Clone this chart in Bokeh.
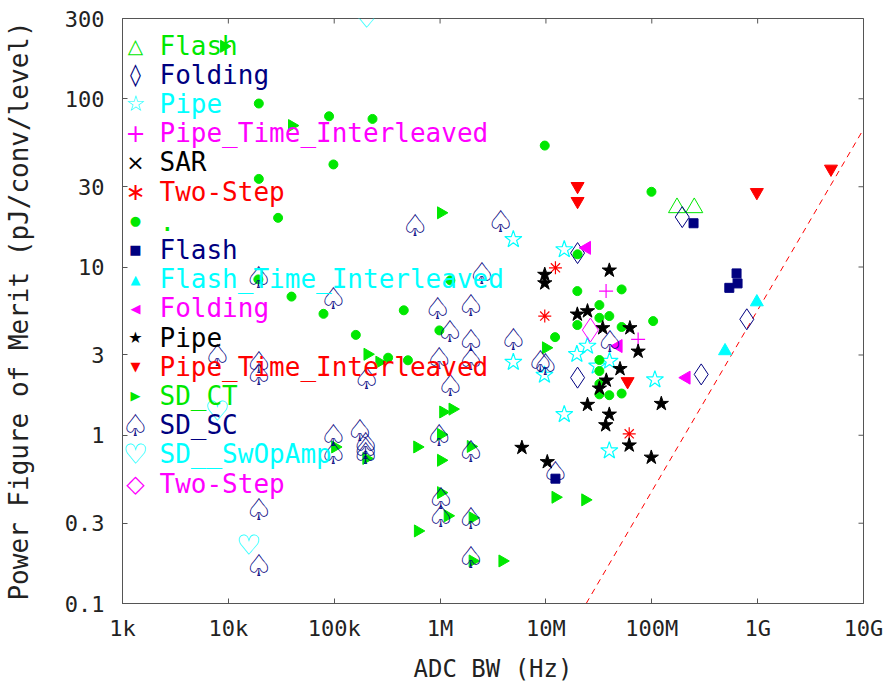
import math
from bokeh.plotting import figure
from bokeh.models import Range1d, FixedTicker, Label
from bokeh.core.properties import value
from bokeh.embed import file_html
from bokeh.resources import INLINE

# ---------------- data (ADC bandwidth in Hz, power FOM in pJ/conv/level) ----------------
flash_h_bw = [1.73e8, 2.52e8]
flash_h_fom = [22.5, 22.5]
folding_h_bw = [1.94e8, 7.9e8, 2.93e8, 1.99e7, 1.99e7]
folding_h_fom = [19.8, 4.89, 2.30, 2.20, 12.1]
pipe_h_bw = [4.92e6, 1.49e7, 4.92e6, 9.68e6, 1.96e7, 2.47e7, 3.05e7, 3.99e7, 1.07e8, 1.49e7, 3.97e7]
pipe_h_fom = [14.6, 12.7, 2.72, 2.28, 3.03, 3.39, 2.58, 2.76, 2.14, 1.33, 0.81]
pti_h_bw = [3.70e7, 7.43e7]
pti_h_fom = [7.19, 3.71]
sar_h_bw = []
sar_h_fom = []
twostep_h_bw = [1.23e7, 9.75e6, 6.12e7]
twostep_h_fom = [9.89, 5.11, 1.02]
dot_bw = [1.94e4, 8.94e4, 2.30e5, 9.83e4, 1.94e4, 2.95e4, 1.92e4, 3.95e4, 7.92e4, 4.54e5,
          1.60e5, 3.23e5, 4.97e5, 9.85e5, 1.25e6, 9.75e6, 1.99e7, 1.98e7, 5.19e7, 3.20e7,
          3.20e7, 3.97e7, 1.98e7, 5.19e7, 1.03e8, 1.22e7, 3.20e7, 3.20e7, 3.20e7, 3.20e7,
          3.97e7, 5.19e7, 9.93e7]
dot_fom = [93.7, 78.7, 75.9, 40.7, 33.4, 19.6, 8.44, 6.67, 5.27, 5.53,
           3.95, 2.89, 2.79, 4.20, 8.33, 52.7, 11.9, 7.19, 7.36, 5.94,
           4.99, 5.11, 4.52, 4.40, 4.77, 3.83, 2.80, 2.41, 2.02, 1.75,
           1.73, 1.77, 28.0]
flash_f_bw = [2.48e8, 6.32e8, 6.46e8, 5.40e8, 1.23e7]
flash_f_fom = [18.2, 9.16, 7.99, 7.52, 0.552]
fti_bw = [9.83e8, 4.92e8]
fti_fom = [6.19, 3.17]
folding_f_bw = [2.43e7, 4.83e7, 2.12e8]
folding_f_fom = [13.0, 3.39, 2.20]
pipe_f_bw = [9.75e6, 9.75e6, 3.97e7, 1.98e7, 2.47e7, 3.44e7, 6.21e7, 7.43e7, 5.01e7, 3.72e7,
             3.20e7, 2.47e7, 3.97e7, 3.67e7, 1.23e8, 5.93e6, 6.12e7, 1.03e7, 9.89e7]
pipe_f_fom = [9.01, 8.02, 9.55, 5.23, 5.47, 4.34, 4.34, 3.15, 2.48, 2.12,
              1.90, 1.52, 1.33, 1.15, 1.54, 0.844, 0.872, 0.694, 0.738]
pti_f_bw = [1.99e7, 1.99e7, 9.83e8, 4.93e9, 5.91e7]
pti_f_fom = [30.2, 24.6, 27.8, 38.3, 2.09]
sdct_bw = [9.11e3, 3.99e4, 1.02e6, 2.06e5, 2.67e5, 1.00e7, 1.07e6, 1.31e6, 1.02e6, 6.08e5,
           1.02e5, 1.95e6, 2.01e5, 1.02e6, 1.23e7, 2.35e7, 1.02e6, 1.18e6, 2.03e6, 6.17e5,
           2.03e6, 3.88e6]
sdct_fom = [205, 69.3, 21.0, 3.03, 2.72, 3.31, 1.375, 1.43, 1.01, 0.852,
            0.852, 0.858, 0.728, 0.710, 0.428, 0.413, 0.456, 0.332, 0.323, 0.270,
            0.179, 0.179]
sdsc_bw = [7.88e3, 1.94e4, 1.94e4, 1.93e4, 9.83e4, 5.82e5, 3.74e6, 2.48e6, 9.47e5, 1.95e6,
           1.24e6, 1.95e6, 4.92e6, 9.79e5, 1.95e6, 2.02e5, 1.25e6, 8.88e6, 9.89e6, 4.01e7,
           9.83e4, 9.83e4, 1.75e5, 1.98e5, 1.98e5, 1.98e5, 9.79e5, 1.95e6, 1.23e7, 1.02e6,
           1.02e6, 1.95e6, 1.94e4, 1.94e4, 1.95e6]
sdsc_fom = [3.00, 2.74, 2.30, 8.71, 6.54, 17.7, 18.8, 9.20, 5.72, 5.94,
            4.16, 3.68, 3.73, 2.89, 2.83, 2.19, 1.99, 2.76, 2.64, 3.63,
            1.01, 0.788, 1.07, 0.904, 0.844, 0.788, 1.01, 0.807, 0.605, 0.424,
            0.332, 0.324, 0.364, 0.170, 0.188]
swop_bw = [2.02e5, 7.88e3, 1.56e4]
swop_fom = [300, 1.39, 0.220]
twostep_f_bw = [2.63e7]
twostep_f_fom = [4.22]
limit_bw = [2.4e7, 1e10]
limit_fom = [0.1, 66]

xtick_vals = [1e3, 1e4, 1e5, 1e6, 1e7, 1e8, 1e9, 1e10]
xtick_labels = ["1k", "10k", "100k", "1M", "10M", "100M", "1G", "10G"]
ytick_vals = [0.1, 0.3, 1, 3, 10, 30, 100, 300]
ytick_labels = ["0.1", "0.3", "1", "3", "10", "30", "100", "300"]

legend_labels = ["Flash", "Folding", "Pipe", "Pipe_Time_Interleaved", "SAR", "Two-Step", ".",
                 "Flash", "Flash_Time_Interleaved", "Folding", "Pipe", "Pipe_Time_Interleaved",
                 "SD_CT", "SD_SC", "SD__SwOpAmp", "Two-Step"]

# ---------------- style ----------------
GREEN = "#00e800"
NAVY = "#000080"
CYAN = "#00ffff"
MAGENTA = "#ff00ff"
RED = "#ff0000"
BLACK = "#000000"
AXC = "#555555"
TXT = "#222222"
MONO = "DejaVu Sans Mono"

W, H = 884, 686
BL, BR, BT, BB = 120, 21, 18, 83
FH = H - BT - BB

p = figure(width=W, height=H, x_axis_type="log", y_axis_type="log",
           x_range=Range1d(xtick_vals[0], xtick_vals[-1]),
           y_range=Range1d(ytick_vals[0], ytick_vals[-1]),
           output_backend="svg", toolbar_location=None,
           min_border_left=BL, min_border_right=BR, min_border_top=BT, min_border_bottom=BB)
p.xgrid.visible = False
p.ygrid.visible = False
p.outline_line_color = AXC
p.outline_line_width = 1
p.background_fill_color = "white"
p.border_fill_color = "white"


def style_axis(ax, ticks, labels):
    ax.ticker = FixedTicker(ticks=ticks)
    ax.major_label_overrides = {t: l for t, l in zip(ticks, labels)}
    ax.major_tick_in = 5
    ax.major_tick_out = 0
    ax.minor_tick_in = 0
    ax.minor_tick_out = 0
    ax.major_tick_line_color = AXC
    ax.axis_line_color = AXC
    ax.major_label_text_font = MONO
    ax.major_label_text_color = TXT
    ax.major_label_text_font_size = "22px"
    ax.axis_label_text_font = MONO
    ax.axis_label_text_font_style = "normal"
    ax.axis_label_text_color = TXT


style_axis(p.xaxis[0], xtick_vals, xtick_labels)
style_axis(p.yaxis[0], ytick_vals, ytick_labels)
p.xaxis[0].major_label_standoff = 12
p.yaxis[0].major_label_standoff = 18
p.xaxis[0].axis_label = "ADC BW (Hz)"
p.yaxis[0].axis_label = "Power Figure of Merit (pJ/conv/level)"
p.xaxis[0].axis_label_text_font_size = "24px"
p.yaxis[0].axis_label_text_font_size = "26px"
p.xaxis[0].axis_label_standoff = 11
p.yaxis[0].axis_label_standoff = 28

# inward ticks on the top and right edges of the frame
p.scatter(xtick_vals, [ytick_vals[-1]] * len(xtick_vals), marker="dash", angle=math.pi / 2,
          size=10, line_color=AXC, line_width=1)
p.scatter([xtick_vals[-1]] * len(ytick_vals), ytick_vals, marker="dash",
          size=10, line_color=AXC, line_width=1)

# ---------------- limit line ----------------
p.line(limit_bw, limit_fom, line_color=RED, line_dash="6 5", line_width=1)

# ---------------- hollow series ----------------
p.scatter(flash_h_bw, flash_h_fom, marker="triangle", size=17, fill_alpha=0, line_color=GREEN, line_width=1)
p.scatter(folding_h_bw, folding_h_fom, marker="diamond", size=21, fill_alpha=0, line_color=NAVY, line_width=1)
p.scatter(pipe_h_bw, pipe_h_fom, marker="star", size=18, fill_alpha=0, line_color=CYAN, line_width=1.2)
p.scatter(pti_h_bw, pti_h_fom, marker="cross", size=14, line_color=MAGENTA, line_width=1.2)
p.scatter(sar_h_bw, sar_h_fom, marker="x", size=12, line_color=BLACK, line_width=1.2)
p.scatter(twostep_h_bw, twostep_h_fom, marker="asterisk", size=13, line_color=RED, line_width=1.2)

# ---------------- filled series ----------------
p.scatter(dot_bw, dot_fom, marker="circle", size=9, fill_color=GREEN, line_color=GREEN)
p.scatter(flash_f_bw, flash_f_fom, marker="square", size=9, fill_color=NAVY, line_color=NAVY)
p.scatter(fti_bw, fti_fom, marker="triangle", size=13, fill_color=CYAN, line_color=CYAN)
p.scatter(folding_f_bw, folding_f_fom, marker="triangle", size=13, angle=math.pi / 2,
          fill_color=MAGENTA, line_color=MAGENTA)
p.scatter(pipe_f_bw, pipe_f_fom, marker="star", size=15, fill_color=BLACK, line_color=BLACK)
p.scatter(pti_f_bw, pti_f_fom, marker="inverted_triangle", size=13, fill_color=RED, line_color=RED)
p.scatter(sdct_bw, sdct_fom, marker="triangle", size=12, angle=-math.pi / 2,
          fill_color=GREEN, line_color=GREEN)
p.text(sdsc_bw, sdsc_fom, text=value("\u2664"), text_align="center", text_baseline="middle",
       text_font=value("DejaVu Sans"), text_font_size="31px", text_color=NAVY)
p.text(swop_bw, swop_fom, text=value("\u2661"), text_align="center", text_baseline="middle",
       text_font=value("DejaVu Sans"), text_font_size="28px", text_color=CYAN)
p.scatter(twostep_f_bw, twostep_f_fom, marker="diamond", size=24, fill_alpha=0, line_color=MAGENTA, line_width=1)

# ---------------- legend (symbol + coloured label per row) ----------------
legend_symbols = ["\u25b3", "\u25ca", "\u2606", "+", "\u00d7", "\u2217", "\u25cf",
                  "\u25a0", "\u25b2", "\u25c0", "\u2605", "\u25bc", "\u25b6", "\u2664", "\u2661", "\u25c7"]
legend_colors = [GREEN, NAVY, CYAN, MAGENTA, BLACK, RED, GREEN,
                 NAVY, CYAN, MAGENTA, BLACK, RED, GREEN, NAVY, CYAN, MAGENTA]
legend_sym_sizes = ["20px", "22px", "22px", "24px", "22px", "24px", "13px",
                    "13px", "13px", "13px", "16px", "13px", "13px", "31px", "28px", "24px"]
row0 = 27      # first row centre, px below frame top
pitch = 29.2
for i, (lab, sym, col, ss) in enumerate(zip(legend_labels, legend_symbols, legend_colors, legend_sym_sizes)):
    yy = FH - (row0 + i * pitch)
    p.add_layout(Label(x=13, y=yy, x_units="screen", y_units="screen", text=sym,
                       text_font="DejaVu Sans", text_font_size=ss, text_color=col,
                       text_align="center", text_baseline="middle"))
    p.add_layout(Label(x=37, y=yy, x_units="screen", y_units="screen", text=lab,
                       text_font=MONO, text_font_size="26px", text_color=col,
                       text_align="left", text_baseline="middle"))

open("out.html", "w").write(file_html(p, INLINE))
